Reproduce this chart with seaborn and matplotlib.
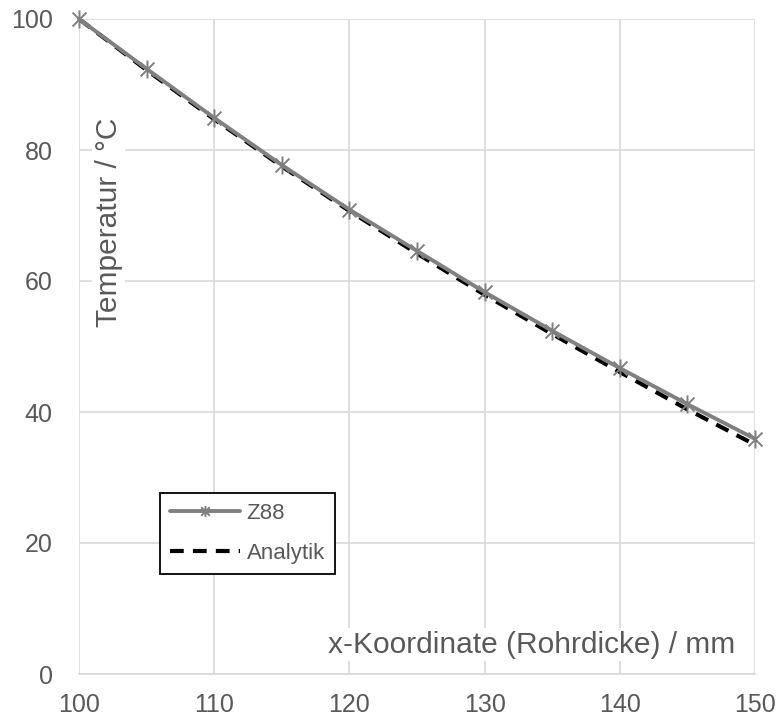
import numpy as np
import pandas as pd
import matplotlib
matplotlib.use("Agg")
import matplotlib.pyplot as plt
from matplotlib.path import Path
import seaborn as sns

# Data
x_mm = [100, 105, 110, 115, 120, 125, 130, 135, 140, 145, 150]
z88 = [100.0, 92.4, 84.9, 77.7, 70.9, 64.6, 58.3, 52.4, 46.7, 41.2, 35.9]
analytik = [100.0, 92.2, 84.7, 77.5, 70.7, 64.2, 57.9, 51.9, 46.1, 40.4, 35.0]

x_ticks = [100, 110, 120, 130, 140, 150]
y_ticks = [0, 20, 40, 60, 80, 100]

sns.set_style("white")
plt.rcParams["font.family"] = ["Liberation Sans", "DejaVu Sans"]

text_col = "#595959"
grid_col = "#d9d9d9"

# Excel-style star marker: X plus vertical bar
star = Path(
    [(-1, -1), (1, 1), (-1, 1), (1, -1), (0, -1.3), (0, 1.3)],
    [Path.MOVETO, Path.LINETO, Path.MOVETO, Path.LINETO, Path.MOVETO, Path.LINETO],
)

df = pd.DataFrame({"x": x_mm, "Z88": z88, "Analytik": analytik})

fig = plt.figure(figsize=(7.77, 7.19), dpi=100)
ax = fig.add_axes([79 / 777, 45 / 719, 676 / 777, 655 / 719])

sns.lineplot(data=df, x="x", y="Z88", ax=ax, color="#808080", linewidth=2.8,
             marker=star, markersize=13, markeredgewidth=1.4,
             markeredgecolor="#808080", label="Z88", zorder=3, clip_on=False)
sns.lineplot(data=df, x="x", y="Analytik", ax=ax, color="black", linewidth=3.0,
             linestyle=(0, (3.3, 2.2)), label="Analytik", zorder=2)

ax.set_xlim(100, 150)
ax.set_ylim(0, 100)
ax.set_xticks(x_ticks)
ax.set_yticks(y_ticks)
ax.grid(True, color=grid_col, linewidth=1.2)
ax.set_axisbelow(True)
for s in ["top", "right", "left"]:
    ax.spines[s].set_visible(False)
ax.spines["bottom"].set_color(grid_col)
ax.spines["bottom"].set_linewidth(1.2)
ax.tick_params(axis="both", length=0, labelsize=18, labelcolor=text_col)
ax.tick_params(axis="y", pad=19)
ax.tick_params(axis="x", pad=14)
ax.set_xlabel("")
ax.set_ylabel("")

# Axis titles placed inside the plot area
ax.text(133.5, 4.5, "x-Koordinate (Rohrdicke) / mm", fontsize=21.5, color=text_col,
        ha="center", va="center",
        bbox=dict(facecolor="white", edgecolor="none", pad=2))
ax.text(102.2, 68.9, "Temperatur / °C", fontsize=21.5, color=text_col,
        rotation=90, ha="center", va="center",
        bbox=dict(facecolor="white", edgecolor="none", pad=2))

leg = ax.legend(loc="upper left", bbox_to_anchor=(160 / 777, 1 - 493 / 719),
                bbox_transform=fig.transFigure, borderaxespad=0, fontsize=16,
                frameon=True, fancybox=False, handlelength=3.15,
                handletextpad=0.3, borderpad=0.45, labelspacing=0.85)
leg.get_frame().set_edgecolor("black")
leg.get_frame().set_linewidth(1.3)
leg.get_frame().set_alpha(1)
leg.legend_handles[0].set_markersize(8)
for t in leg.get_texts():
    t.set_color(text_col)

plt.savefig("out.png", dpi=100)
